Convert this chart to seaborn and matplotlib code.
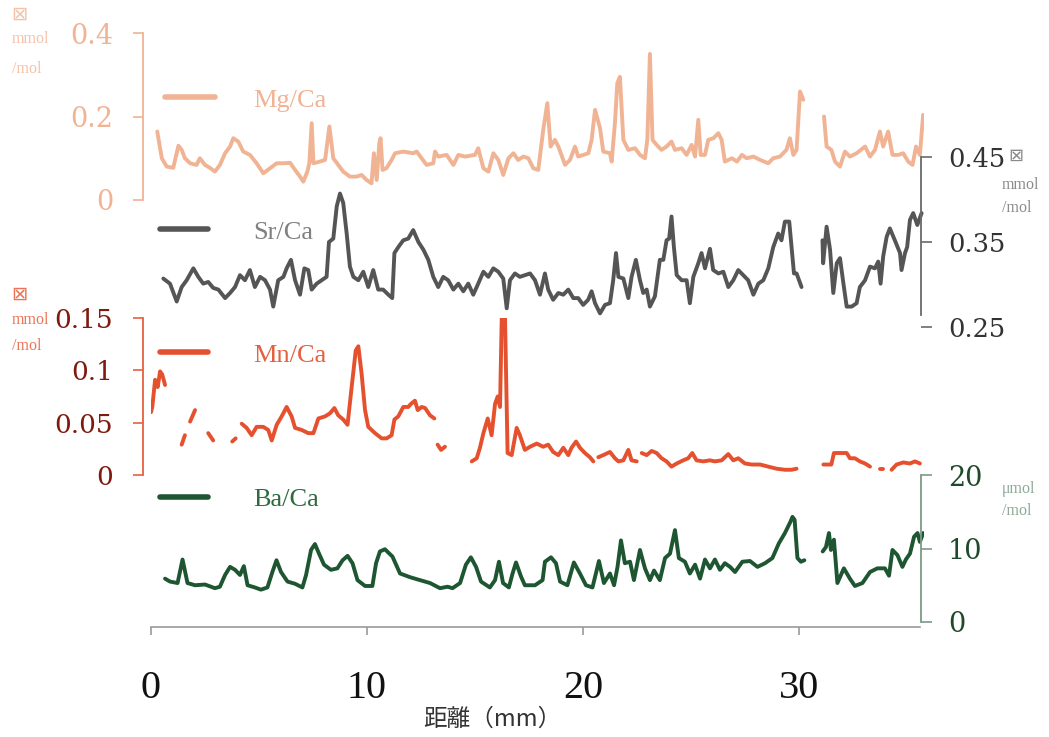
import numpy as np
import pandas as pd
import matplotlib
matplotlib.use("Agg")
import matplotlib.pyplot as plt
from matplotlib.lines import Line2D
import seaborn as sns

nan = np.nan

# ---------------- data (distance in mm) ----------------
mg_x = [0.29, 0.5, 0.73, 1.03, 1.27, 1.42, 1.57, 1.81, 2.11, 2.26, 2.5, 2.73, 2.96, 3.19, 3.43, 3.66, 3.81, 4.04,
        4.27, 4.58, 4.89, 5.2, 5.51, 5.82, 6.13, 6.44, 6.67, 6.9, 7.05, 7.24, 7.33, 7.44, 7.52, 7.82, 8.06, 8.26,
        8.44, 8.67, 8.9, 9.21, 9.52, 9.75, 9.98, 10.21, 10.32, 10.45, 10.57, 10.63, 10.72, 10.9, 11.14, 11.3,
        11.68, 12.14, 12.3, 12.53, 12.76, 13.07, 13.15, 13.3, 13.69, 14.0, 14.23, 14.54, 15.0, 15.15, 15.39,
        15.62, 15.85, 16.08, 16.31, 16.55, 16.78, 17.0, 17.24, 17.47, 17.7, 17.93, 18.16, 18.35, 18.5, 18.7,
        18.86, 19.17, 19.4, 19.63, 19.78, 20.25, 20.4, 20.56, 20.79, 20.94, 21.25, 21.33, 21.48, 21.59, 21.71,
        21.87, 22.1, 22.41, 22.64, 22.87, 22.98, 23.1, 23.22, 23.41, 23.64, 23.87, 24.1, 24.26, 24.57, 24.8,
        25.03, 25.19, 25.34, 25.45, 25.65, 25.8, 26.04, 26.27, 26.42, 26.57, 26.9, 27.13, 27.36, 27.58, 27.89,
        28.2, 28.58, 28.81, 29.12, 29.42, 29.58, 29.74, 29.89, 30.05, 30.2, 30.6, 31.16, 31.28, 31.5, 31.67,
        31.9, 32.13, 32.36, 32.67, 33.06, 33.29, 33.52, 33.75, 33.9, 34.13, 34.33, 34.6, 34.83, 35.06, 35.26,
        35.42, 35.6, 35.75]
mg_y = [0.164, 0.10, 0.08, 0.077, 0.13, 0.12, 0.10, 0.088, 0.084, 0.10, 0.084, 0.077, 0.068, 0.084, 0.112, 0.128,
        0.148, 0.14, 0.116, 0.108, 0.088, 0.064, 0.076, 0.088, 0.088, 0.089, 0.072, 0.056, 0.044, 0.068, 0.088,
        0.184, 0.088, 0.092, 0.096, 0.176, 0.10, 0.084, 0.068, 0.056, 0.056, 0.06, 0.048, 0.04, 0.112, 0.048,
        0.136, 0.148, 0.072, 0.076, 0.096, 0.112, 0.116, 0.112, 0.116, 0.10, 0.084, 0.088, 0.116, 0.104, 0.108,
        0.084, 0.108, 0.104, 0.108, 0.124, 0.076, 0.068, 0.112, 0.096, 0.06, 0.10, 0.112, 0.096, 0.104, 0.10,
        0.076, 0.072, 0.168, 0.232, 0.128, 0.144, 0.128, 0.084, 0.096, 0.128, 0.104, 0.112, 0.144, 0.216, 0.172,
        0.116, 0.112, 0.092, 0.184, 0.28, 0.295, 0.144, 0.12, 0.124, 0.108, 0.10, 0.144, 0.35, 0.144, 0.132,
        0.12, 0.128, 0.14, 0.12, 0.124, 0.108, 0.132, 0.104, 0.192, 0.108, 0.108, 0.144, 0.148, 0.16, 0.144,
        0.092, 0.10, 0.092, 0.108, 0.10, 0.104, 0.096, 0.088, 0.10, 0.104, 0.12, 0.148, 0.108, 0.12, 0.26, 0.24,
        nan, 0.20, 0.128, 0.12, 0.092, 0.08, 0.116, 0.104, 0.112, 0.128, 0.104, 0.12, 0.164, 0.128, 0.164, 0.108,
        0.108, 0.112, 0.092, 0.084, 0.128, 0.108, 0.204]

sr_x = [0.57, 0.88, 1.19, 1.42, 1.65, 1.96, 2.19, 2.42, 2.65, 2.88, 3.12, 3.43, 3.66, 3.89, 4.12, 4.35, 4.58, 4.81,
        5.05, 5.28, 5.51, 5.66, 5.89, 6.13, 6.28, 6.48, 6.67, 6.9, 7.1, 7.28, 7.44, 7.67, 7.9, 8.13, 8.24, 8.44,
        8.6, 8.75, 8.9, 9.06, 9.21, 9.37, 9.6, 9.83, 10.06, 10.29, 10.52, 10.75, 10.99, 11.17, 11.27, 11.45,
        11.68, 11.91, 12.14, 12.38, 12.61, 12.84, 13.07, 13.3, 13.53, 13.76, 14.0, 14.23, 14.46, 14.69, 14.92,
        15.15, 15.39, 15.62, 15.85, 16.08, 16.31, 16.47, 16.62, 16.85, 17.08, 17.31, 17.55, 17.78, 18.01, 18.24,
        18.39, 18.62, 18.86, 19.09, 19.32, 19.55, 19.78, 20.01, 20.24, 20.4, 20.56, 20.79, 21.02, 21.25, 21.4,
        21.53, 21.64, 21.87, 22.1, 22.25, 22.45, 22.64, 22.79, 22.95, 23.1, 23.33, 23.56, 23.72, 23.87, 23.99,
        24.1, 24.21, 24.34, 24.57, 24.8, 24.95, 25.11, 25.34, 25.49, 25.65, 25.88, 26.03, 26.27, 26.5, 26.73,
        26.96, 27.19, 27.42, 27.65, 27.89, 28.12, 28.35, 28.58, 28.81, 29.04, 29.19, 29.35, 29.55, 29.66, 29.77,
        29.89, 30.12, 30.6, 31.09, 31.12, 31.28, 31.44, 31.59, 31.75, 31.9, 32.06, 32.21, 32.44, 32.67, 32.82,
        33.06, 33.29, 33.52, 33.67, 33.78, 33.9, 34.06, 34.21, 34.44, 34.68, 34.75, 34.91, 35.01, 35.14, 35.29,
        35.48, 35.68]
sr_y = [0.307, 0.301, 0.28, 0.297, 0.305, 0.319, 0.309, 0.301, 0.303, 0.296, 0.294, 0.284, 0.29, 0.297, 0.311,
        0.305, 0.317, 0.297, 0.309, 0.305, 0.294, 0.274, 0.305, 0.309, 0.319, 0.329, 0.305, 0.288, 0.319, 0.317,
        0.294, 0.301, 0.305, 0.309, 0.35, 0.354, 0.392, 0.407, 0.396, 0.36, 0.321, 0.309, 0.305, 0.315, 0.297,
        0.317, 0.294, 0.294, 0.288, 0.284, 0.337, 0.344, 0.352, 0.354, 0.364, 0.35, 0.341, 0.329, 0.309, 0.297,
        0.309, 0.305, 0.294, 0.301, 0.292, 0.301, 0.288, 0.301, 0.315, 0.309, 0.319, 0.315, 0.307, 0.272, 0.305,
        0.313, 0.309, 0.311, 0.313, 0.305, 0.288, 0.313, 0.294, 0.282, 0.29, 0.288, 0.294, 0.284, 0.284, 0.276,
        0.282, 0.292, 0.278, 0.266, 0.276, 0.278, 0.305, 0.337, 0.309, 0.307, 0.284, 0.309, 0.329, 0.305, 0.29,
        0.294, 0.274, 0.286, 0.329, 0.329, 0.352, 0.354, 0.38, 0.344, 0.311, 0.305, 0.305, 0.278, 0.309, 0.325,
        0.337, 0.319, 0.342, 0.317, 0.313, 0.315, 0.297, 0.305, 0.317, 0.311, 0.305, 0.288, 0.301, 0.305, 0.319,
        0.344, 0.36, 0.352, 0.374, 0.374, 0.344, 0.313, 0.313, 0.297, nan, 0.352, 0.325, 0.368, 0.341, 0.29,
        0.325, 0.331, 0.301, 0.274, 0.274, 0.278, 0.297, 0.305, 0.321, 0.319, 0.327, 0.301, 0.333, 0.356, 0.366,
        0.352, 0.337, 0.317, 0.337, 0.344, 0.376, 0.384, 0.37, 0.384]

mn_x = [0.0, 0.06, 0.19, 0.31, 0.42, 0.52, 0.65, 1.0, 1.42, 1.57, 1.7, 1.81, 2.04, 2.3, 2.65, 2.88, 3.3, 3.76, 3.92,
        4.05, 4.2, 4.43, 4.66, 4.89, 5.2, 5.43, 5.59, 5.82, 6.05, 6.28, 6.51, 6.67, 6.98, 7.28, 7.52, 7.75, 8.06,
        8.29, 8.49, 8.67, 8.9, 9.1, 9.29, 9.48, 9.6, 9.75, 9.91, 10.06, 10.37, 10.68, 10.91, 11.14, 11.27, 11.45,
        11.68, 11.91, 12.04, 12.22, 12.35, 12.53, 12.69, 12.92, 13.12, 13.2, 13.27, 13.43, 13.61, 14.2, 14.85,
        15.08, 15.23, 15.39, 15.59, 15.77, 15.93, 16.05, 16.16, 16.24, 16.39, 16.51, 16.7, 16.93, 17.08, 17.31,
        17.55, 17.86, 18.16, 18.39, 18.62, 18.86, 19.09, 19.32, 19.47, 19.68, 19.86, 20.09, 20.32, 20.48, 20.6,
        20.71, 20.94, 21.25, 21.48, 21.64, 21.87, 22.1, 22.25, 22.49, 22.6, 22.72, 22.95, 23.18, 23.41, 23.64,
        23.87, 24.1, 24.34, 24.64, 24.87, 25.06, 25.26, 25.57, 25.88, 26.11, 26.42, 26.73, 26.96, 27.19, 27.5,
        27.81, 28.2, 28.58, 28.97, 29.35, 29.66, 29.89, 30.5, 31.13, 31.5, 31.62, 31.9, 32.21, 32.36, 32.59,
        32.82, 33.06, 33.29, 33.5, 33.75, 33.9, 34.1, 34.29, 34.52, 34.83, 35.14, 35.37, 35.6]
mn_y = [0.06, 0.065, 0.091, 0.084, 0.099, 0.096, 0.086, nan, 0.029, 0.038, nan, 0.051, 0.062, nan, 0.04, 0.033, nan,
        0.032, 0.035, nan, 0.049, 0.045, 0.038, 0.046, 0.046, 0.043, 0.033, 0.048, 0.056, 0.065, 0.056, 0.045,
        0.043, 0.04, 0.04, 0.054, 0.056, 0.059, 0.064, 0.057, 0.053, 0.048, 0.084, 0.119, 0.123, 0.097, 0.062,
        0.046, 0.04, 0.035, 0.035, 0.038, 0.053, 0.056, 0.065, 0.065, 0.068, 0.071, 0.062, 0.065, 0.064, 0.057,
        0.054, nan, 0.029, 0.024, 0.027, nan, 0.013, 0.016, 0.026, 0.04, 0.054, 0.038, 0.068, 0.075, 0.065,
        0.151, 0.151, 0.021, 0.019, 0.045, 0.038, 0.024, 0.027, 0.03, 0.027, 0.029, 0.022, 0.019, 0.026, 0.019,
        0.026, 0.032, 0.026, 0.021, 0.017, 0.013, nan, 0.017, 0.019, 0.022, 0.016, 0.013, 0.014, 0.024, 0.014,
        0.013, nan, 0.021, 0.019, 0.023, 0.021, 0.016, 0.013, 0.008, 0.011, 0.014, 0.016, 0.021, 0.014, 0.013,
        0.014, 0.013, 0.014, 0.02, 0.014, 0.016, 0.011, 0.01, 0.01, 0.008, 0.006, 0.005, 0.005, 0.006, nan,
        0.01, 0.01, 0.021, 0.021, 0.021, 0.016, 0.016, 0.013, 0.011, 0.008, nan, 0.006, 0.006, nan, 0.005, 0.01,
        0.012, 0.011, 0.013, 0.011]

ba_x = [0.65, 0.88, 1.23, 1.46, 1.69, 2.04, 2.5, 2.96, 3.19, 3.43, 3.66, 3.89, 4.12, 4.3, 4.47, 4.81, 5.09, 5.39,
        5.62, 5.81, 6.02, 6.32, 6.67, 7.01, 7.18, 7.41, 7.59, 7.78, 8.01, 8.33, 8.63, 8.87, 9.1, 9.33, 9.56, 9.91,
        10.25, 10.42, 10.6, 10.83, 11.18, 11.53, 11.99, 12.45, 12.92, 13.38, 13.73, 13.96, 14.31, 14.58, 14.81,
        15.05, 15.28, 15.69, 15.93, 16.11, 16.3, 16.57, 16.74, 16.9, 17.13, 17.31, 17.78, 18.13, 18.24, 18.52,
        18.75, 18.94, 19.28, 19.58, 19.86, 20.14, 20.44, 20.74, 20.97, 21.25, 21.44, 21.6, 21.76, 21.94, 22.18,
        22.36, 22.64, 22.87, 23.1, 23.29, 23.56, 23.8, 24.03, 24.26, 24.44, 24.72, 24.95, 25.19, 25.42, 25.65,
        25.88, 26.11, 26.34, 26.57, 26.81, 27.04, 27.38, 27.73, 28.08, 28.43, 28.77, 29.07, 29.35, 29.6, 29.7,
        29.8, 29.93, 30.09, 30.25, 30.7, 31.1, 31.25, 31.39, 31.48, 31.62, 31.78, 32.08, 32.36, 32.59, 32.94,
        33.29, 33.63, 33.98, 34.17, 34.33, 34.56, 34.79, 34.95, 35.14, 35.33, 35.49, 35.6, 35.75]
ba_y = [5.9, 5.5, 5.3, 8.5, 5.3, 5.0, 5.1, 4.6, 4.8, 6.4, 7.5, 7.1, 6.4, 7.6, 5.0, 4.7, 4.4, 4.7, 6.8, 8.4, 6.8, 5.5,
        5.2, 4.7, 6.4, 9.8, 10.6, 9.3, 7.8, 7.1, 7.3, 8.4, 9.0, 8.0, 5.7, 4.9, 4.9, 8.0, 9.6, 9.9, 8.9, 6.6, 6.1,
        5.7, 5.3, 4.6, 4.8, 4.6, 5.3, 7.8, 8.8, 7.5, 5.5, 4.7, 5.7, 8.2, 5.3, 4.7, 6.6, 8.1, 6.2, 5.0, 5.0, 5.7,
        8.2, 8.8, 8.0, 5.5, 5.0, 8.1, 6.6, 5.0, 4.7, 8.3, 5.3, 6.6, 5.0, 7.5, 11.1, 8.0, 8.2, 5.7, 9.8, 7.3, 5.7,
        7.0, 5.7, 8.7, 9.3, 12.5, 8.7, 8.2, 6.6, 7.8, 5.9, 8.5, 7.3, 8.5, 7.1, 8.0, 7.5, 6.8, 8.2, 8.3, 7.5, 8.0,
        8.7, 10.7, 12.1, 13.6, 14.3, 13.9, 8.7, 8.2, 8.4, nan, 9.6, 10.2, 12.1, 9.8, 11.2, 5.3, 7.3, 5.9, 4.9,
        5.3, 6.8, 7.3, 7.3, 6.3, 9.8, 9.1, 7.5, 8.5, 9.3, 11.6, 12.1, 10.9, 12.1]

mg_ticks = [0, 0.2, 0.4]
mg_ticklabels = ["0", "0.2", "0.4"]
sr_ticks = [0.25, 0.35, 0.45]
sr_ticklabels = ["0.25", "0.35", "0.45"]
mn_ticks = [0, 0.05, 0.1, 0.15]
mn_ticklabels = ["0", "0.05", "0.1", "0.15"]
ba_ticks = [0, 10, 20]
ba_ticklabels = ["0", "10", "20"]
x_ticks = [0, 10, 20, 30]
x_ticklabels = ["0", "10", "20", "30"]

series_names = ["Mg/Ca", "Sr/Ca", "Mn/Ca", "Ba/Ca"]

# ---------------- style ----------------
sns.set_theme(style="white")
plt.rcParams['font.family'] = ['DejaVu Serif', 'DejaVu Sans']

W, H = 1049, 737
fig = plt.figure(figsize=(W / 100, H / 100), dpi=100)
XMAX = 35.79
PT = 72 / 100  # points per pixel


def make_axes(top_px, bottom_px):
    left, right = 151, 924
    return fig.add_axes([left / W, 1 - bottom_px / H, (right - left) / W, (bottom_px - top_px) / H])


def draw(ax, x, y, color, lw=2.8):
    df = pd.DataFrame({"x": x, "y": y})
    df["seg"] = df["y"].isna().cumsum()
    df = df.dropna()
    sns.lineplot(data=df, x="x", y="y", units="seg", estimator=None, sort=False,
                 color=color, lw=lw, ax=ax, legend=False)


def style(ax, side, spine_color, ticks, labels, ylim, label_color, size, bounds=None):
    ax.set_xlim(0, XMAX)
    ax.set_ylim(*ylim)
    ax.patch.set_alpha(0)
    ax.set_xlabel("")
    ax.set_ylabel("")
    for s in ax.spines.values():
        s.set_visible(False)
    sp = ax.spines[side]
    sp.set_visible(True)
    sp.set_color(spine_color)
    sp.set_linewidth(1.3)
    if side == "left":
        sp.set_position(("outward", 8 * PT))
        ax.yaxis.tick_left()
        ax.tick_params(axis="y", left=True, right=False, labelleft=True, labelright=False,
                       direction="out", length=10 * PT, width=1.2, color=spine_color,
                       labelcolor=label_color, labelsize=size, pad=20 * PT)
    else:
        sp.set_position(("outward", -3 * PT))
        ax.yaxis.tick_right()
        ax.tick_params(axis="y", right=True, left=False, labelright=True, labelleft=False,
                       direction="out", length=11 * PT, width=1.2, color=spine_color,
                       labelcolor=label_color, labelsize=size, pad=16 * PT)
    if bounds is not None:
        sp.set_bounds(*bounds)
    ax.set_yticks(ticks)
    ax.set_yticklabels(labels)
    ax.tick_params(axis="x", bottom=False, labelbottom=False)
    ax.grid(False)


c_mg, c_sr, c_mn, c_ba = "#F0B394", "#555555", "#E5512F", "#1E5632"

ax_mg = make_axes(33, 200)
ax_sr = make_axes(157, 327)
ax_mn = make_axes(318, 475)
ax_ba = make_axes(475, 622)

draw(ax_mg, mg_x, mg_y, c_mg)
draw(ax_sr, sr_x, sr_y, c_sr)
draw(ax_mn, mn_x, mn_y, c_mn)
draw(ax_ba, ba_x, ba_y, c_ba)

style(ax_mg, "left", c_mg, mg_ticks, mg_ticklabels, (0, 0.4), "#F0B394", 19.5)
style(ax_sr, "right", "#6a6a6a", sr_ticks, sr_ticklabels, (0.25, 0.45), "#333333", 18.5, bounds=(0.264, 0.45))
style(ax_mn, "left", "#E8603F", mn_ticks, mn_ticklabels, (0, 0.15), "#7E1A0E", 19)
style(ax_ba, "right", "#7C9A87", ba_ticks, ba_ticklabels, (0, 20), "#1F4A2A", 19.5)

# x axis on the bottom panel
bx = ax_ba.spines["bottom"]
bx.set_visible(True)
bx.set_color("#9a9a9a")
bx.set_linewidth(1.2)
bx.set_position(("outward", 5 * PT))
bx.set_bounds(0, 35.6)
ax_ba.set_xticks(x_ticks)
ax_ba.set_xticklabels(x_ticklabels, family=["Liberation Serif", "DejaVu Serif"])
ax_ba.tick_params(axis="x", bottom=True, labelbottom=True, direction="out", length=8 * PT,
                  width=1.2, color="#9a9a9a", labelcolor="#111111", labelsize=29, pad=35 * PT)
ax_ba.set_xlabel("距離（mm）", family=["Noto Sans CJK JP", "DejaVu Sans"], fontsize=17, color="#333333")
ax_ba.xaxis.set_label_coords((492 - 151) / 773, -0.58)

# legends
legend_specs = [
    (ax_mg, series_names[0], c_mg, "#F0B394", 165, 100, 1.9, 1.45),
    (ax_sr, series_names[1], c_sr, "#808080", 160, 232, 1.8, 1.75),
    (ax_mn, series_names[2], c_mn, "#E5603F", 160, 355, 1.8, 1.75),
    (ax_ba, series_names[3], c_ba, "#2E6B40", 160, 499, 1.8, 1.75),
]
for ax, name, lc, tc, lx, ly, hl, tp in legend_specs:
    h = Line2D([], [], color=lc, lw=4)
    leg = ax.legend([h], [name], loc="center left", bbox_to_anchor=(lx / W, 1 - ly / H),
                    bbox_transform=fig.transFigure, frameon=False, handlelength=hl,
                    handletextpad=tp, borderpad=0, borderaxespad=0,
                    prop={"family": ["Liberation Serif", "DejaVu Serif"], "size": 19})
    for t in leg.get_texts():
        t.set_color(tc)

# unit labels
def unit(x, y, s, color, size=11, weight="normal"):
    fig.text(x / W, 1 - y / H, s, color=color, fontsize=size, va="center", ha="left",
             family=["Liberation Serif", "DejaVu Sans"], weight=weight)

unit(11, 15, "⊠", "#F4C2A8", 14)
unit(12, 39, "mmol", "#F4C2A8", 11.5)
unit(12, 69, "/mol", "#F4C2A8", 11.5)

unit(1008, 156, "⊠", "#8a8a8a", 13)
unit(1002, 185, "mmol", "#8a8a8a", 11.5)
unit(1002, 208, "/mol", "#8a8a8a", 11.5)

unit(11, 295, "⊠", "#EC7355", 14)
unit(12, 320, "mmol", "#EC7355", 11.5)
unit(12, 346, "/mol", "#EC7355", 11.5)

unit(1002, 489, "μmol", "#8FA898", 11.5)
unit(1002, 511, "/mol", "#8FA898", 11.5)

fig.savefig("out.png", dpi=100)
